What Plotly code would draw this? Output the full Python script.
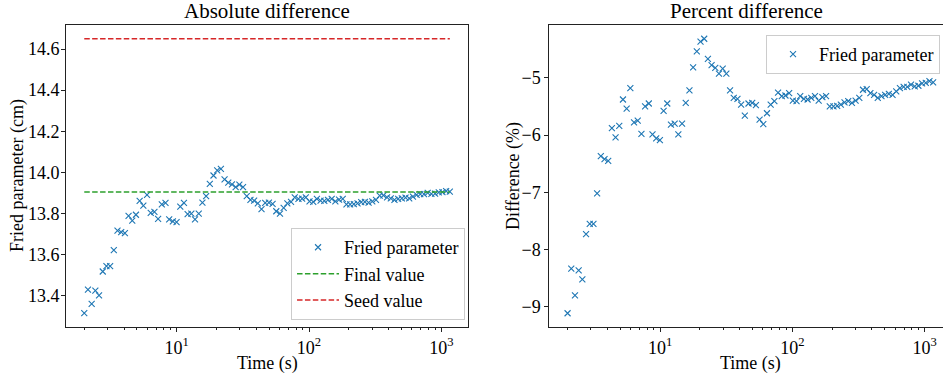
import plotly.graph_objects as go

# ---- data ----
times = [2.000, 2.133, 2.275, 2.426, 2.587, 2.759, 2.942, 3.137, 3.345, 3.567,
         3.804, 4.056, 4.325, 4.612, 4.918, 5.245, 5.593, 5.964, 6.360, 6.782,
         7.232, 7.712, 8.224, 8.770, 9.352, 9.974, 10.64, 11.34, 12.09, 12.90,
         13.75, 14.67, 15.64, 16.68, 17.79, 18.97, 20.23, 21.57, 23.00, 24.53,
         26.16, 27.89, 29.75, 31.72, 33.83, 36.07, 38.47, 41.02, 43.75, 46.65,
         49.75, 53.05, 56.57, 60.33, 64.33, 68.60, 73.16, 78.01, 83.19, 88.71,
         94.60, 100.9, 107.6, 114.7, 122.3, 130.5, 139.1, 148.4, 158.2, 168.7,
         179.9, 191.9, 204.6, 218.2, 232.7, 248.1, 264.6, 282.2, 300.9, 320.9,
         342.2, 364.9, 389.1, 415.0, 442.5, 471.9, 503.2, 536.6, 572.3, 610.2,
         650.8, 694.0, 740.0, 789.2, 841.6, 897.4, 957.0, 1020.0, 1088.0, 1160.0]

fried_cm = [13.315, 13.430, 13.361, 13.425, 13.402, 13.518, 13.544, 13.544, 13.622, 13.717,
            13.709, 13.705, 13.789, 13.765, 13.794, 13.862, 13.838, 13.891, 13.803, 13.808,
            13.774, 13.844, 13.852, 13.772, 13.762, 13.758, 13.833, 13.852, 13.797, 13.800,
            13.772, 13.800, 13.853, 13.885, 13.944, 13.985, 14.010, 14.017, 13.966, 13.950,
            13.942, 13.928, 13.941, 13.928, 13.885, 13.866, 13.863, 13.849, 13.821, 13.852,
            13.853, 13.847, 13.811, 13.799, 13.827, 13.849, 13.857, 13.879, 13.871, 13.872,
            13.878, 13.859, 13.857, 13.871, 13.863, 13.862, 13.866, 13.871, 13.859, 13.868,
            13.871, 13.844, 13.844, 13.846, 13.849, 13.855, 13.857, 13.853, 13.859, 13.866,
            13.887, 13.888, 13.878, 13.874, 13.866, 13.871, 13.874, 13.877, 13.874, 13.882,
            13.891, 13.894, 13.894, 13.900, 13.896, 13.897, 13.903, 13.904, 13.909, 13.906]

percent_diff = [-9.11, -8.33, -8.80, -8.36, -8.52, -7.73, -7.55, -7.55, -7.02, -6.37,
                -6.42, -6.45, -5.88, -6.04, -5.84, -5.38, -5.54, -5.18, -5.78, -5.75,
                -5.98, -5.50, -5.45, -5.99, -6.06, -6.09, -5.58, -5.45, -5.82, -5.80,
                -5.99, -5.80, -5.44, -5.22, -4.82, -4.54, -4.37, -4.32, -4.67, -4.78,
                -4.83, -4.93, -4.84, -4.93, -5.22, -5.35, -5.37, -5.47, -5.66, -5.45,
                -5.44, -5.48, -5.73, -5.81, -5.62, -5.47, -5.41, -5.26, -5.32, -5.31,
                -5.27, -5.40, -5.41, -5.32, -5.37, -5.38, -5.35, -5.32, -5.40, -5.34,
                -5.32, -5.50, -5.50, -5.49, -5.47, -5.43, -5.41, -5.44, -5.40, -5.35,
                -5.21, -5.20, -5.27, -5.30, -5.35, -5.32, -5.30, -5.28, -5.30, -5.24,
                -5.18, -5.16, -5.16, -5.12, -5.15, -5.14, -5.10, -5.09, -5.06, -5.08]

final_value = 13.905
seed_value = 14.65

x_tickvals = [10, 100, 1000]
x_ticktext = ["10<sup>1</sup>", "10<sup>2</sup>", "10<sup>3</sup>"]
minor_vals = [m * d for d in (1, 10, 100, 1000) for m in range(2, 10)]

# ---- styling ----
FONT = "Liberation Serif, Times New Roman, DejaVu Serif, serif"
BLUE = "#1f77b4"
GREEN = "#2ca02c"
RED = "#d62728"
AX = "#222222"


def f(size):
    return dict(family=FONT, size=size, color="black")


marker_style = dict(symbol="x-thin", size=6, color=BLUE, line=dict(width=1.1, color=BLUE))

fig = go.Figure()
fig.add_trace(go.Scatter(x=times, y=fried_cm, mode="markers", name="Fried parameter",
                         marker=marker_style, xaxis="x", yaxis="y", legend="legend"))
fig.add_trace(go.Scatter(x=[times[0], times[-1]], y=[final_value, final_value], mode="lines",
                         name="Final value", line=dict(color=GREEN, width=1.5, dash="5.5px,2.4px"),
                         xaxis="x", yaxis="y", legend="legend"))
fig.add_trace(go.Scatter(x=[times[0], times[-1]], y=[seed_value, seed_value], mode="lines",
                         name="Seed value", line=dict(color=RED, width=1.5, dash="5.5px,2.4px"),
                         xaxis="x", yaxis="y", legend="legend"))
fig.add_trace(go.Scatter(x=times, y=percent_diff, mode="markers", name="Fried parameter",
                         marker=marker_style, xaxis="x2", yaxis="y2", legend="legend2"))


def xaxis_style(domain, rng):
    return dict(type="log", domain=domain, range=rng, showline=True, linecolor=AX,
                linewidth=1, mirror=True, ticks="outside", ticklen=4, tickcolor=AX,
                showgrid=False, zeroline=False, tickvals=x_tickvals, ticktext=x_ticktext,
                tickfont=f(18),
                minor=dict(ticks="outside", ticklen=2, tickcolor=AX, tickvals=minor_vals,
                           showgrid=False))


# plot area in pixels: left 66, top 25, width 877, height 302
def px_x(p):
    return (p - 66) / 877.0


def px_y(p):
    return (327 - p) / 302.0


fig.update_layout(
    width=943, height=380,
    margin=dict(l=66, r=0, t=25, b=53),
    paper_bgcolor="white", plot_bgcolor="white",
    font=f(18),
    xaxis=xaxis_style([0, 0.4584], [0.163, 3.202]),
    xaxis2=dict(xaxis_style([0.5511, 1.0], [0.163, 3.139]), anchor="y2"),
    yaxis=dict(domain=[0, 1], range=[13.248, 14.717], anchor="x", showline=True,
               linecolor=AX, linewidth=1, mirror=True, ticks="outside", ticklen=4,
               tickcolor=AX, showgrid=False, zeroline=False, dtick=0.2, tick0=13.4,
               tickformat=".1f", tickfont=f(18), ticklabelstandoff=-2),
    yaxis2=dict(domain=[0, 1], range=[-9.35, -4.08], anchor="x2", showline=True,
                linecolor=AX, linewidth=1, mirror=False, ticks="outside", ticklen=4,
                tickcolor=AX, showgrid=False, zeroline=False, dtick=1, tick0=-9,
                tickfont=f(18)),
    legend=dict(x=0.455, y=0.023, xanchor="right", yanchor="bottom",
                bgcolor="rgba(255,255,255,0.8)", bordercolor="#cccccc", borderwidth=1,
                font=f(18), itemwidth=42),
    legend2=dict(x=0.9966, y=0.967, xanchor="right", yanchor="top",
                 bgcolor="rgba(255,255,255,0.8)", bordercolor="#cccccc", borderwidth=1,
                 font=f(18), itemwidth=42),
    showlegend=True,
    annotations=[
        dict(text="Absolute difference", xref="x domain", yref="y domain", x=0.5, y=1,
             xanchor="center", yanchor="bottom", showarrow=False, font=f(21), yshift=0),
        dict(text="Percent difference", xref="x2 domain", yref="y2 domain", x=0.5, y=1,
             xanchor="center", yanchor="bottom", showarrow=False, font=f(21), yshift=0),
        dict(text="Time (s)", xref="paper", yref="paper", x=px_x(267), y=px_y(363),
             xanchor="center", yanchor="middle", showarrow=False, font=f(18)),
        dict(text="Time (s)", xref="paper", yref="paper", x=px_x(750), y=px_y(363),
             xanchor="center", yanchor="middle", showarrow=False, font=f(18)),
        dict(text="Fried parameter (cm)", xref="paper", yref="paper", x=px_x(17), y=0.5,
             xanchor="center", yanchor="middle", showarrow=False, font=f(18), textangle=-90),
        dict(text="Difference (%)", xref="paper", yref="paper", x=px_x(513), y=0.5,
             xanchor="center", yanchor="middle", showarrow=False, font=f(18), textangle=-90),
    ],
)

fig.write_html("out.html")
